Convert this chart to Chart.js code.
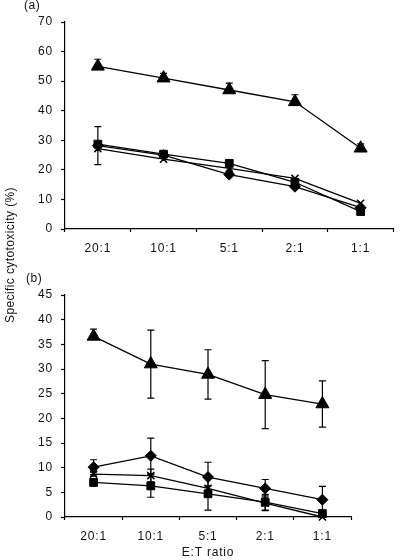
<!DOCTYPE html>
<html><head><meta charset="utf-8">
<script src="https://cdn.jsdelivr.net/npm/chart.js@4/dist/chart.umd.min.js"></script>
<style>
html,body{margin:0;padding:0;background:#fff;}
body{width:402px;height:560px;position:relative;overflow:hidden;font-family:"Liberation Sans",Arial,sans-serif;color:#111;}
#ca{position:absolute;left:0;top:0;}
#cb{position:absolute;left:0;top:270px;}
.lbl{position:absolute;font-size:12px;line-height:14px;white-space:nowrap;letter-spacing:0.5px;}
#ytitle{position:absolute;left:10px;top:255px;font-size:12px;line-height:14px;white-space:nowrap;letter-spacing:0.4px;transform:translate(-50%,-50%) rotate(-90deg);}
</style>
</head><body>
<canvas id="ca" width="402" height="270"></canvas>
<canvas id="cb" width="402" height="290"></canvas>
<div class="lbl" style="left:24px;top:-2px;">(a)</div>
<div class="lbl" style="left:26px;top:271px;">(b)</div>
<div id="ytitle">Specific cytotoxicity (%)</div>
<script>
const categories = ['20:1','10:1','5:1','2:1','1:1'];

// Panel (a)
const aTriangle = [55.0, 51.0, 47.0, 43.0, 27.3];
const aTriangleErrUp = [2.4, 1.6, 2.3, 2.4, 1.5];
const aTriangleErrDown = [0, 0, 0, 0, 0];
const aSquare = [28.7, 25.3, 22.2, 15.8, 5.9];
const aDiamond = [28.2, 25.0, 18.4, 14.3, 7.2];
const aDiamondErr = [6.4, 0, 0, 0, 0];
const aCross = [27.2, 23.6, 20.5, 17.1, 8.7];
const aYTicks = [0, 10, 20, 30, 40, 50, 60, 70];

// Panel (b)
const bTriangle = [36.6, 31.0, 28.9, 24.8, 22.9];
const bTriangleErrUp = [1.5, 6.9, 5.0, 6.9, 4.7];
const bTriangleErrDown = [0, 6.9, 5.0, 6.9, 4.7];
const bSquare = [7.0, 6.3, 4.7, 3.0, 0.7];
const bSquareErr = [0.5, 2.3, 3.3, 1.6, 0.3];
const bDiamond = [10.1, 12.4, 8.1, 5.8, 3.5];
const bDiamondErr = [1.5, 3.6, 3.0, 1.8, 2.7];
const bCross = [8.7, 8.4, 5.8, 2.8, 0.0];
const bCrossErr = [0.4, 1.3, 0.5, 1.5, 0];
const bYTicks = [0, 5, 10, 15, 20, 25, 30, 35, 40, 45];

const FONT = '"Liberation Sans", Arial, Helvetica, sans-serif';
Chart.defaults.font.family = FONT;
Chart.defaults.font.size = 12;
Chart.defaults.color = '#111';

const spacing = {
  id: 'spacing',
  beforeUpdate(chart) { chart.ctx.letterSpacing = '0.8px'; },
  beforeDraw(chart) { chart.ctx.letterSpacing = '0.8px'; }
};

const errorBars = {
  id: 'errorBars',
  beforeDatasetsDraw(chart) {
    const {ctx, scales: {x, y}} = chart;
    ctx.save();
    ctx.strokeStyle = '#000';
    ctx.lineWidth = 1.2;
    chart.data.datasets.forEach(ds => {
      if (!ds.errUp) return;
      ds.data.forEach((v, j) => {
        const up = ds.errUp[j] || 0, dn = ds.errDown[j] || 0;
        if (!up && !dn) return;
        const px = x.getPixelForValue(j);
        const yc = y.getPixelForValue(v);
        ctx.beginPath();
        if (up) {
          const yt = y.getPixelForValue(v + up);
          ctx.moveTo(px, yc); ctx.lineTo(px, yt);
          ctx.moveTo(px - 3.5, yt); ctx.lineTo(px + 3.5, yt);
        }
        if (dn) {
          const yb = y.getPixelForValue(v - dn);
          ctx.moveTo(px, yc); ctx.lineTo(px, yb);
          ctx.moveTo(px - 3.5, yb); ctx.lineTo(px + 3.5, yb);
        }
        ctx.stroke();
      });
    });
    ctx.restore();
  }
};

function ds(data, errUp, errDown, style, radius) {
  return {
    data, errUp, errDown,
    borderColor: '#000', backgroundColor: '#000',
    borderWidth: 1.3, tension: 0, clip: false,
    pointStyle: style, pointRadius: radius, pointHoverRadius: radius,
    pointBackgroundColor: '#000', pointBorderColor: '#000',
    pointBorderWidth: style === 'crossRot' ? 1.6 : 1
  };
}

function makeChart(id, sets, yTicks, pad, xHeight, title) {
  const ymax = yTicks[yTicks.length - 1];
  const step = yTicks[1] - yTicks[0];
  return new Chart(document.getElementById(id), {
    type: 'line',
    data: { labels: categories, datasets: sets },
    plugins: [spacing, errorBars],
    options: {
      responsive: false, animation: false,
      layout: { padding: pad },
      plugins: { legend: { display: false }, tooltip: { enabled: false } },
      scales: {
        x: {
          type: 'category', offset: true,
          grid: { display: true, drawOnChartArea: false, drawTicks: true, tickLength: 3, offset: true, tickColor: '#000', tickWidth: 1.2, color: '#000' },
          border: { display: true, color: '#000', width: 1.2 },
          ticks: { padding: 9, maxRotation: 0, autoSkip: false, color: '#111', font: { size: 12 } },
          title: title ? { display: true, text: title, padding: { top: 0, bottom: 0 }, color: '#111', font: { size: 12 } } : { display: false },
          afterFit(s) { s.height = xHeight; }
        },
        y: {
          min: 0, max: ymax,
          grid: { display: true, drawOnChartArea: false, drawTicks: true, tickLength: 4, tickColor: '#000', tickWidth: 1.2, color: '#000' },
          border: { display: true, color: '#000', width: 1.2 },
          ticks: { stepSize: step, padding: 8, color: '#111', font: { size: 12 } },
          afterFit(s) { s.width = 65; }
        }
      }
    }
  });
}

makeChart('ca', [
  ds(aTriangle, aTriangleErrUp, aTriangleErrDown, 'triangle', 7.5),
  ds(aSquare, null, null, 'rect', 5.5),
  ds(aDiamond, aDiamondErr, aDiamondErr, 'rectRot', 5.5),
  ds(aCross, null, null, 'crossRot', 5)
], aYTicks, { left: 0, right: 4, top: 22, bottom: 0 }, 41, null);

makeChart('cb', [
  ds(bTriangle, bTriangleErrUp, bTriangleErrDown, 'triangle', 7.5),
  ds(bSquare, bSquareErr, bSquareErr, 'rect', 5.5),
  ds(bDiamond, bDiamondErr, bDiamondErr, 'rectRot', 5.5),
  ds(bCross, bCrossErr, bCrossErr, 'crossRot', 5)
], bYTicks, { left: 0, right: 51, top: 25, bottom: 0 }, 43, 'E:T ratio');
</script>
</body></html>
